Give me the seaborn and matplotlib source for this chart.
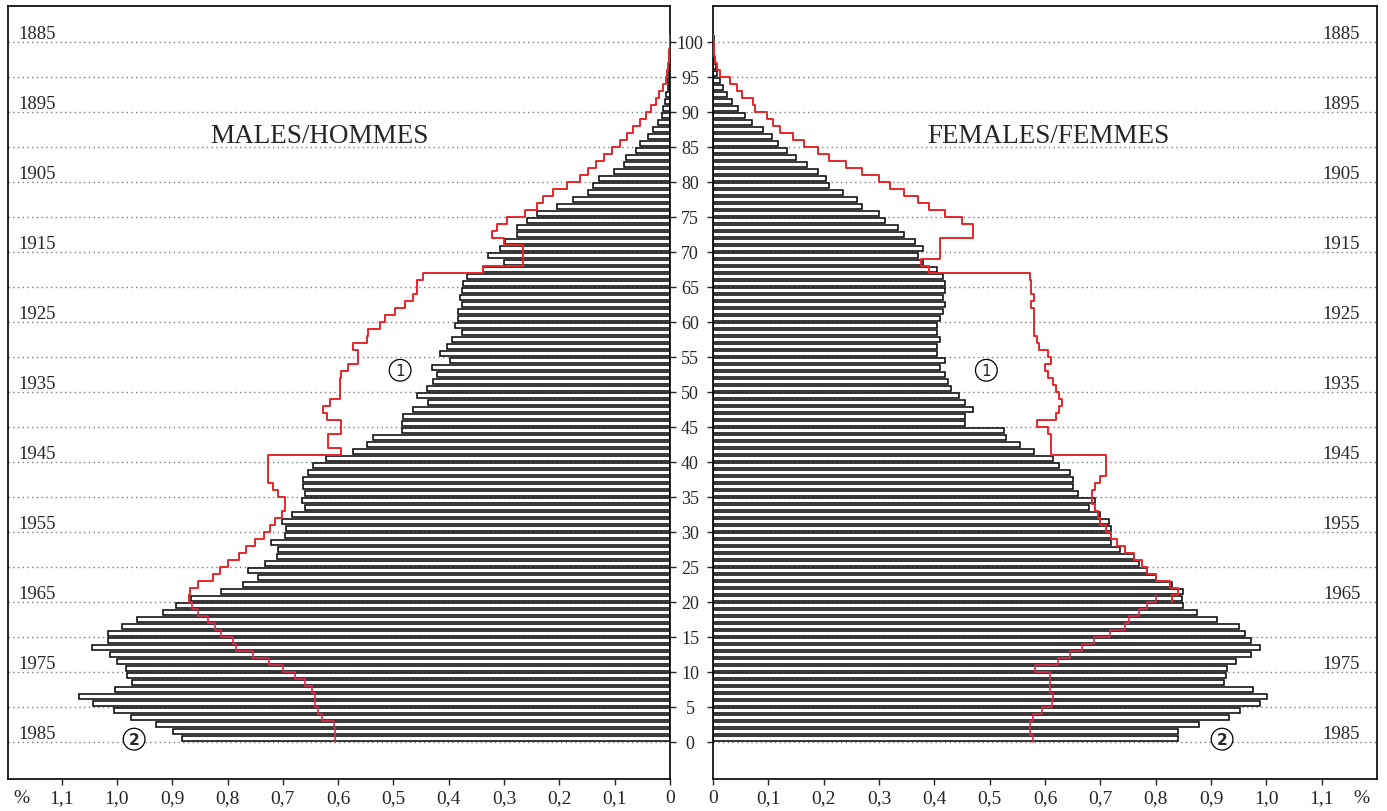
import numpy as np
import matplotlib
matplotlib.use("Agg")
import matplotlib.pyplot as plt
import seaborn as sns

# single-year ages 0..100, share of total population (%)
ages = np.arange(0, 101)

male = [0.883, 0.898, 0.929, 0.975, 1.005, 1.044, 1.069, 1.004, 0.973, 0.981,
        0.984, 1.000, 1.013, 1.046, 1.017, 1.017, 0.990, 0.963, 0.917, 0.893,
        0.866, 0.811, 0.772, 0.745, 0.763, 0.732, 0.711, 0.709, 0.722, 0.696,
        0.694, 0.702, 0.684, 0.660, 0.666, 0.660, 0.663, 0.663, 0.655, 0.645,
        0.622, 0.573, 0.548, 0.537, 0.485, 0.485, 0.482, 0.464, 0.437, 0.458,
        0.440, 0.428, 0.422, 0.431, 0.398, 0.416, 0.404, 0.395, 0.377, 0.389,
        0.383, 0.383, 0.377, 0.380, 0.377, 0.375, 0.367, 0.338, 0.300, 0.329,
        0.307, 0.298, 0.276, 0.276, 0.259, 0.241, 0.205, 0.176, 0.148, 0.139,
        0.128, 0.101, 0.083, 0.080, 0.061, 0.054, 0.039, 0.031, 0.021, 0.015,
        0.012, 0.009, 0.007, 0.004, 0.003, 0.002, 0.001, 0.001, 0.001, 0.0, 0.0]

female = [0.841, 0.841, 0.878, 0.932, 0.952, 0.988, 1.001, 0.975, 0.924, 0.928,
          0.929, 0.946, 0.972, 0.989, 0.972, 0.962, 0.950, 0.911, 0.875, 0.849,
          0.848, 0.850, 0.830, 0.800, 0.785, 0.770, 0.760, 0.735, 0.720, 0.720,
          0.720, 0.715, 0.700, 0.680, 0.690, 0.660, 0.650, 0.650, 0.645, 0.625,
          0.615, 0.580, 0.555, 0.530, 0.525, 0.455, 0.455, 0.470, 0.455, 0.445,
          0.430, 0.425, 0.420, 0.410, 0.420, 0.405, 0.405, 0.410, 0.405, 0.405,
          0.410, 0.415, 0.420, 0.415, 0.420, 0.420, 0.415, 0.405, 0.380, 0.370,
          0.380, 0.365, 0.345, 0.335, 0.310, 0.300, 0.270, 0.260, 0.235, 0.210,
          0.205, 0.190, 0.170, 0.150, 0.133, 0.118, 0.106, 0.091, 0.070, 0.058,
          0.045, 0.035, 0.025, 0.018, 0.012, 0.008, 0.005, 0.003, 0.002, 0.001, 0.001]

# curve (1): ages 20..100
male_line1 = [0.870, 0.868, 0.853, 0.826, 0.814, 0.800, 0.780, 0.766, 0.750, 0.735,
              0.723, 0.714, 0.702, 0.696, 0.696, 0.709, 0.718, 0.727, 0.727, 0.727,
              0.727, 0.594, 0.618, 0.618, 0.594, 0.594, 0.620, 0.627, 0.615, 0.597,
              0.597, 0.597, 0.594, 0.582, 0.564, 0.564, 0.573, 0.548, 0.546, 0.524,
              0.515, 0.497, 0.479, 0.464, 0.458, 0.458, 0.446, 0.338, 0.265, 0.265,
              0.265, 0.301, 0.322, 0.313, 0.295, 0.262, 0.241, 0.229, 0.211, 0.187,
              0.163, 0.148, 0.133, 0.120, 0.105, 0.090, 0.078, 0.066, 0.054, 0.043,
              0.034, 0.026, 0.019, 0.013, 0.008, 0.005, 0.003, 0.002, 0.001, 0.0, 0.0]

female_line1 = [0.830, 0.840, 0.825, 0.800, 0.785, 0.775, 0.760, 0.745, 0.730, 0.720,
                0.710, 0.700, 0.695, 0.690, 0.685, 0.685, 0.690, 0.700, 0.710, 0.710,
                0.710, 0.610, 0.610, 0.610, 0.605, 0.585, 0.620, 0.625, 0.630, 0.625,
                0.620, 0.615, 0.605, 0.600, 0.610, 0.605, 0.590, 0.585, 0.580, 0.580,
                0.580, 0.580, 0.575, 0.580, 0.575, 0.575, 0.573, 0.390, 0.375, 0.410,
                0.410, 0.410, 0.470, 0.470, 0.450, 0.420, 0.390, 0.370, 0.345, 0.320,
                0.300, 0.270, 0.240, 0.210, 0.190, 0.165, 0.145, 0.121, 0.109, 0.097,
                0.076, 0.073, 0.052, 0.043, 0.031, 0.013, 0.008, 0.004, 0.002, 0.001, 0.0]

# curve (2): ages 0..20
male_line2 = [0.606, 0.606, 0.608, 0.630, 0.636, 0.642, 0.642, 0.648, 0.660, 0.678,
              0.700, 0.725, 0.754, 0.785, 0.790, 0.812, 0.823, 0.835, 0.854, 0.865, 0.870]
female_line2 = [0.579, 0.573, 0.573, 0.579, 0.594, 0.612, 0.615, 0.609, 0.609, 0.609,
                0.582, 0.624, 0.645, 0.667, 0.688, 0.718, 0.745, 0.751, 0.769, 0.784, 0.800]

years = list(range(1885, 1986, 10))
grid_ages = list(range(0, 101, 5))
xticks = [0, 0.1, 0.2, 0.3, 0.4, 0.5, 0.6, 0.7, 0.8, 0.9, 1.0, 1.1]


def steps(start, vals):
    a = np.arange(start, start + len(vals))
    y = np.column_stack([a, a + 1]).ravel()
    x = np.repeat(vals, 2)
    return x, y


sns.set_style("white")
plt.rcParams["font.family"] = ["Liberation Serif", "DejaVu Serif"]

fig = plt.figure(figsize=(13.87, 8.12), dpi=100)
axL = fig.add_axes([8 / 1387, 32 / 812, 662 / 1387, 773 / 812])
axR = fig.add_axes([713 / 1387, 32 / 812, 664 / 1387, 773 / 812])

red = "#e8262a"
for ax, vals, l1, l2 in [(axL, male, male_line1, male_line2),
                         (axR, female, female_line1, female_line2)]:
    for a in grid_ages:
        ax.axhline(a, color="#7f7f7f", lw=1.0, ls=(0, (1, 2.4)), zorder=0.5)
    sns.barplot(x=vals, y=ages + 0.5, orient="y", native_scale=True, width=0.7,
                color="white", saturation=1, edgecolor="black", linewidth=1.1,
                errorbar=None, ax=ax, zorder=1)
    # curve (2) sits among the bars, drawn thin and darker
    x2, y2 = steps(0, l2)
    ax.plot(x2, y2, color="#e0284a", lw=1.2, zorder=2)
    x1, y1 = steps(20, l1)
    ax.plot(x1, y1, color=red, lw=1.4, zorder=3)
    ax.set_ylim(-5.29, 105.14)
    ax.set_xlabel("")
    ax.set_ylabel("")
    for s in ax.spines.values():
        s.set_visible(True)
        s.set_color("black")
        s.set_linewidth(1.2)

axL.set_xlim(1.197, 0)
axR.set_xlim(0, 1.2)

# bottom scales
labels = ["0"] + [f"{v:.1f}".replace(".", ",") for v in xticks[1:]] + ["%"]
for ax in (axL, axR):
    ax.set_xticks(xticks + [1.172])
    ax.set_xticklabels(labels)
    ax.tick_params(axis="x", direction="out", length=4.3, width=1, labelsize=14,
                   pad=3, bottom=True)
    ax.xaxis.get_major_ticks()[-1].tick1line.set_visible(False)

# central age scale
axL.yaxis.tick_right()
axL.set_yticks(grid_ages)
axL.set_yticklabels([str(a) for a in grid_ages])
axL.tick_params(axis="y", direction="out", length=4.3, width=1, labelsize=13,
                pad=10.1, right=True, left=False)
for t in axL.get_yticklabels():
    t.set_ha("center")
axR.set_yticks(grid_ages)
axR.tick_params(axis="y", direction="out", length=4.3, width=1, labelleft=False,
                left=True)

# year labels
for yr in years:
    a = 1985 - yr
    axL.text(1.179, a + 0.55, str(yr), ha="left", va="baseline", fontsize=13.5)
    axR.text(1.17, a + 0.55, str(yr), ha="right", va="baseline", fontsize=13.5)

axL.text(0.633, 86.7, "MALES/HOMMES", ha="center", va="center", fontsize=19.5)
axR.text(0.606, 86.7, "FEMALES/FEMMES", ha="center", va="center", fontsize=19.5)

circ = dict(boxstyle="circle,pad=0.22", fc="white", ec="black", lw=0.9)
axL.text(0.488, 53.1, "1", ha="center", va="center", fontsize=11, bbox=circ,
         family="DejaVu Sans", zorder=4)
axR.text(0.494, 53.1, "1", ha="center", va="center", fontsize=11, bbox=circ,
         family="DejaVu Sans", zorder=4)
axL.text(0.969, 0.4, "2", ha="center", va="center", fontsize=11, bbox=circ,
         family="DejaVu Sans", fontweight="bold", zorder=4)
axR.text(0.92, 0.4, "2", ha="center", va="center", fontsize=11, bbox=circ,
         family="DejaVu Sans", fontweight="bold", zorder=4)

fig.savefig("out.png", dpi=100)
